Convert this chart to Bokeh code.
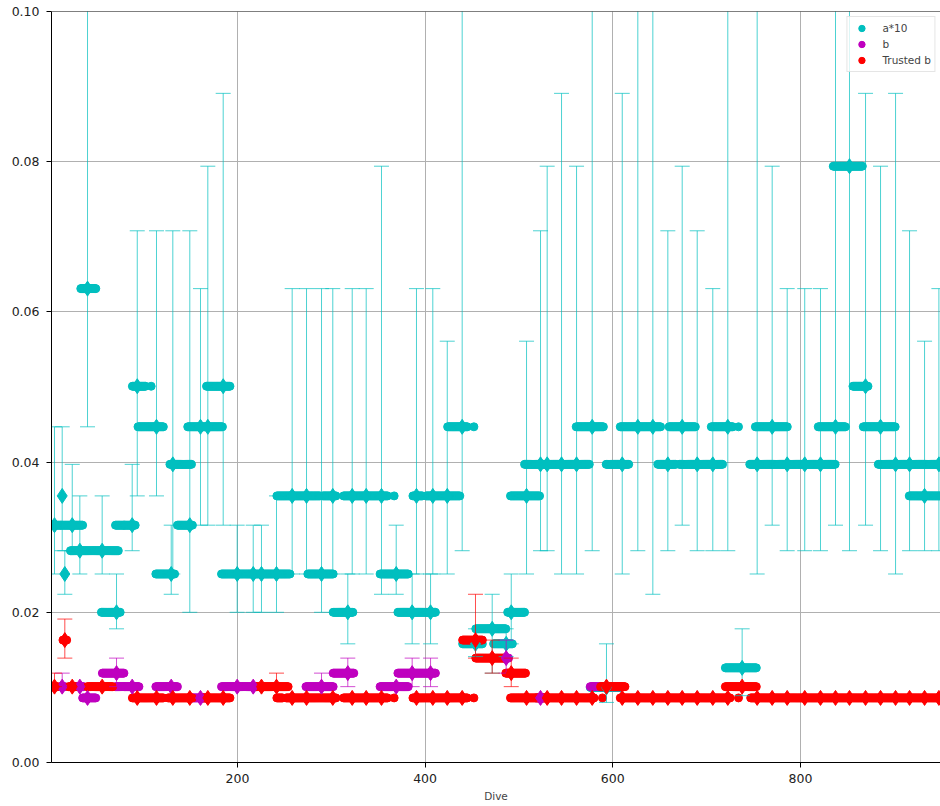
import numpy as np
from bokeh.plotting import figure
from bokeh.models import (ColumnDataSource, FixedTicker, PrintfTickFormatter, Span,
                          Legend, LegendItem, Range1d)
from bokeh.embed import file_html
from bokeh.resources import INLINE

CYAN = "#00bfbf"
MAGENTA = "#bf00bf"
RED = "#ff0000"
FONT = "DejaVu Sans"

# ---- window estimates (diamonds with error bars) ----
WIN_DIVE = [5.0, 13.2, 16.0, 23.9, 32.0, 40.2, 55.8, 71.1, 87.8, 93.2,
            113.7, 129.4, 131.1, 149.2, 160.6, 168.4, 184.8, 199.7, 216.8, 225.6,
            241.6, 258.3, 273.6, 289.6, 301.6, 317.6, 322.3, 337.2, 353.5, 369.2,
            386.2, 390.8, 405.8, 408.2, 423.6, 439.5, 453.7, 471.5, 486.4, 491.8,
            508.1, 523.0, 530.1, 545.4, 561.4, 578.1, 593.3, 610.1, 626.7, 642.7,
            658.7, 674.0, 690.0, 706.6, 722.6, 737.9, 753.9, 769.9, 785.9, 804.6,
            821.4, 837.4, 852.3, 869.4, 885.4, 901.4, 916.3, 932.3, 947.6]
A10 = [0.0316, 0.0355, 0.0251, 0.0316, 0.0282, 0.0631, 0.0282, 0.0200, 0.0316, 0.0501,
       0.0447, 0.0251, 0.0397, 0.0316, 0.0447, 0.0447, 0.0501, 0.0251, 0.0251, 0.0251,
       0.0251, 0.0355, 0.0355, 0.0251, 0.0355, 0.0200, 0.0355, 0.0355, 0.0355, 0.0251,
       0.0200, 0.0355, 0.0200, 0.0355, 0.0355, 0.0447, 0.0158, 0.0178, 0.0158, 0.0200,
       0.0355, 0.0397, 0.0397, 0.0397, 0.0397, 0.0447, 0.0100, 0.0397, 0.0447, 0.0447,
       0.0397, 0.0447, 0.0397, 0.0397, 0.0447, 0.0126, 0.0397, 0.0447, 0.0397, 0.0397,
       0.0397, 0.0447, 0.0794, 0.0501, 0.0447, 0.0397, 0.0397, 0.0355, 0.0397]
A10_LO = [0.0251, 0.0282, 0.0224, 0.0282, 0.0251, 0.0447, 0.0251, 0.0178, 0.0282, 0.0355,
          0.0355, 0.0224, 0.0251, 0.0200, 0.0316, 0.0316, 0.0316, 0.0200, 0.0200, 0.0200,
          0.0200, 0.0251, 0.0251, 0.0200, 0.0251, 0.0158, 0.0251, 0.0251, 0.0224, 0.0224,
          0.0158, 0.0251, 0.0158, 0.0251, 0.0251, 0.0282, 0.0141, 0.0119, 0.0141, 0.0158,
          0.0251, 0.0282, 0.0282, 0.0251, 0.0251, 0.0282, 0.0080, 0.0251, 0.0282, 0.0224,
          0.0282, 0.0316, 0.0282, 0.0282, 0.0282, 0.0089, 0.0251, 0.0316, 0.0282, 0.0282,
          0.0282, 0.0316, 0.0282, 0.0316, 0.0282, 0.0251, 0.0282, 0.0282, 0.0282]
A10_HI = [0.0447, 0.0447, 0.0282, 0.0397, 0.0355, 0.1122, 0.0355, 0.0251, 0.0397, 0.0708,
          0.0708, 0.0316, 0.0708, 0.0708, 0.0631, 0.0794, 0.0891, 0.0316, 0.0316, 0.0316,
          0.0355, 0.0631, 0.0631, 0.0631, 0.0631, 0.0251, 0.0631, 0.0631, 0.0794, 0.0316,
          0.0251, 0.0631, 0.0251, 0.0631, 0.0561, 0.1122, 0.0178, 0.0224, 0.0178, 0.0251,
          0.0561, 0.0708, 0.0794, 0.0891, 0.0794, 0.1122, 0.0158, 0.0891, 0.1122, 0.1122,
          0.0708, 0.0794, 0.0708, 0.0631, 0.1122, 0.0178, 0.1122, 0.0794, 0.0631, 0.0631,
          0.0631, 0.1122, 0.1122, 0.0891, 0.0794, 0.0891, 0.0708, 0.0561, 0.0631]
B = [0.0101, 0.0101, 0.0163, 0.0101, 0.0101, 0.0086, 0.0101, 0.0119, 0.0101, 0.0086,
     0.0086, 0.0101, 0.0086, 0.0086, 0.0086, 0.0086, 0.0086, 0.0101, 0.0101, 0.0101,
     0.0101, 0.0086, 0.0086, 0.0101, 0.0086, 0.0119, 0.0086, 0.0086, 0.0086, 0.0101,
     0.0119, 0.0086, 0.0119, 0.0086, 0.0086, 0.0086, 0.0163, 0.0139, 0.0139, 0.0119,
     0.0086, 0.0086, 0.0086, 0.0086, 0.0086, 0.0086, 0.0101, 0.0086, 0.0086, 0.0086,
     0.0086, 0.0086, 0.0086, 0.0086, 0.0086, 0.0101, 0.0086, 0.0086, 0.0086, 0.0086,
     0.0086, 0.0086, 0.0086, 0.0086, 0.0086, 0.0086, 0.0086, 0.0086, 0.0086]
B_LO = [0.0101, 0.0101, 0.0139, 0.0101, 0.0101, 0.0086, 0.0101, 0.0101, 0.0101, 0.0086,
        0.0086, 0.0101, 0.0086, 0.0086, 0.0086, 0.0086, 0.0086, 0.0101, 0.0101, 0.0101,
        0.0101, 0.0086, 0.0086, 0.0101, 0.0086, 0.0101, 0.0086, 0.0086, 0.0086, 0.0101,
        0.0101, 0.0086, 0.0101, 0.0086, 0.0086, 0.0086, 0.0139, 0.0119, 0.0119, 0.0101,
        0.0086, 0.0086, 0.0086, 0.0086, 0.0086, 0.0086, 0.0101, 0.0086, 0.0086, 0.0086,
        0.0086, 0.0086, 0.0086, 0.0086, 0.0086, 0.0101, 0.0086, 0.0086, 0.0086, 0.0086,
        0.0086, 0.0086, 0.0086, 0.0086, 0.0086, 0.0086, 0.0086, 0.0086, 0.0086]
B_HI = [0.0119, 0.0119, 0.0191, 0.0101, 0.0101, 0.0086, 0.0101, 0.0139, 0.0101, 0.0086,
        0.0086, 0.0101, 0.0086, 0.0086, 0.0086, 0.0086, 0.0086, 0.0101, 0.0101, 0.0101,
        0.0119, 0.0086, 0.0086, 0.0119, 0.0086, 0.0139, 0.0086, 0.0086, 0.0086, 0.0101,
        0.0139, 0.0086, 0.0139, 0.0086, 0.0086, 0.0086, 0.0224, 0.0163, 0.0163, 0.0139,
        0.0086, 0.0086, 0.0086, 0.0086, 0.0086, 0.0086, 0.0101, 0.0086, 0.0086, 0.0086,
        0.0086, 0.0086, 0.0086, 0.0086, 0.0086, 0.0101, 0.0086, 0.0086, 0.0086, 0.0086,
        0.0086, 0.0086, 0.0086, 0.0086, 0.0086, 0.0086, 0.0086, 0.0086, 0.0086]
TRUSTED = [1, 0, 1, 1, 0, 0, 1, 0, 0, 1,
           1, 0, 1, 1, 0, 1, 1, 0, 0, 1,
           1, 1, 1, 0, 1, 0, 1, 1, 1, 0,
           0, 1, 0, 1, 1, 1, 1, 1, 0, 1,
           1, 0, 1, 1, 1, 1, 1, 1, 1, 1,
           1, 1, 1, 1, 1, 1, 1, 1, 1, 1,
           1, 1, 1, 1, 1, 1, 1, 1, 1]

# ---- per-dive dot runs (start dive, end dive, value) ----
A_RUN_START = [3, 33, 22, 55, 70, 88, 108, 94, 113, 128, 136, 147, 167, 183, 242, 275, 291,
               313, 367, 302, 352, 371, 387, 401, 424, 452, 440, 454, 473, 488, 491, 506, 561,
               576, 593, 608, 648, 660, 671, 705, 734, 720, 746, 752, 819, 835, 856, 867, 883, 916]
A_RUN_END = [35, 49, 73, 75, 91, 102, 108, 121, 133, 151, 152, 184, 192, 256, 288, 302, 305,
             360, 367, 323, 382, 411, 397, 437, 445, 452, 461, 486, 493, 506, 522, 575, 590,
             608, 617, 651, 667, 688, 717, 728, 734, 753, 837, 786, 848, 866, 872, 901, 949, 949]
A_RUN_VAL = [0.0316, 0.0631, 0.0282, 0.0200, 0.0316, 0.0501, 0.0501, 0.0447, 0.0251, 0.0397,
             0.0316, 0.0447, 0.0501, 0.0251, 0.0355, 0.0251, 0.0355, 0.0355, 0.0355, 0.0200,
             0.0251, 0.0200, 0.0355, 0.0355, 0.0447, 0.0447, 0.0158, 0.0178, 0.0158, 0.0200,
             0.0355, 0.0397, 0.0447, 0.0100, 0.0397, 0.0447, 0.0397, 0.0447, 0.0397, 0.0447,
             0.0447, 0.0126, 0.0397, 0.0447, 0.0447, 0.0794, 0.0501, 0.0447, 0.0397, 0.0355]

B_RUN_START = [11, 27, 35, 56, 70, 113, 151, 183, 273, 302, 352, 371, 484, 518, 576]
B_RUN_END = [16, 36, 49, 79, 95, 136, 167, 220, 302, 324, 382, 411, 489, 528, 608]
B_RUN_VAL = [0.0101, 0.0101, 0.0086, 0.0119, 0.0101, 0.0101, 0.0086, 0.0101, 0.0101, 0.0119,
             0.0101, 0.0119, 0.0139, 0.0086, 0.0101]

T_RUN_START = [3, 14, 20, 40, 88, 126, 163, 220, 242, 252, 313, 367, 387, 452, 440, 454, 486,
               491, 589, 587, 608, 720, 734, 747]
T_RUN_END = [8, 18, 27, 67, 121, 152, 192, 254, 248, 305, 360, 367, 445, 452, 461, 486, 507,
             580, 589, 613, 725, 753, 734, 949]
T_RUN_VAL = [0.0101, 0.0163, 0.0101, 0.0101, 0.0086, 0.0086, 0.0086, 0.0101, 0.0086, 0.0086,
             0.0086, 0.0086, 0.0086, 0.0086, 0.0163, 0.0139, 0.0119, 0.0086, 0.0086, 0.0101,
             0.0086, 0.0101, 0.0086, 0.0086]

X_TICKS = [200, 400, 600, 800]
Y_TICKS = [0.0, 0.02, 0.04, 0.06, 0.08, 0.10]


def expand(starts, ends, vals):
    xs, ys = [], []
    for s, e, v in zip(starts, ends, vals):
        for d in range(int(round(s)), int(round(e)) + 1):
            xs.append(d)
            ys.append(v)
    return xs, ys


p = figure(width=940, height=806, output_backend="svg", toolbar_location=None,
           x_range=Range1d(1.8, 949.3), y_range=Range1d(0.0, 0.1),
           min_border_left=51, min_border_right=0, min_border_top=11, min_border_bottom=44)
p.outline_line_color = None
p.background_fill_color = "white"

for ax in (p.xaxis[0], p.yaxis[0]):
    ax.axis_line_color = "black"
    ax.major_tick_line_color = "black"
    ax.major_tick_out = 5
    ax.major_tick_in = 0
    ax.minor_tick_line_color = None
    ax.major_label_text_font = FONT
    ax.major_label_text_font_size = "12.5px"
    ax.major_label_text_color = "#222222"

p.xaxis.ticker = FixedTicker(ticks=X_TICKS)
p.yaxis.ticker = FixedTicker(ticks=Y_TICKS)
p.yaxis.formatter = PrintfTickFormatter(format="%.2f")
p.xaxis.major_label_standoff = 6
p.yaxis.major_label_standoff = 7
p.xaxis.axis_label = "Dive"
p.xaxis.axis_label_text_font = FONT
p.xaxis.axis_label_text_font_size = "10.5px"
p.xaxis.axis_label_text_font_style = "normal"
p.xaxis.axis_label_standoff = 4
p.xgrid.ticker = FixedTicker(ticks=X_TICKS)
p.ygrid.ticker = FixedTicker(ticks=Y_TICKS)
p.xgrid.grid_line_color = "#b0b0b0"
p.ygrid.grid_line_color = "#b0b0b0"

p.add_layout(Span(location=0.1, dimension="width", line_color="black", line_width=1))

# dots
ax_, ay_ = expand(A_RUN_START, A_RUN_END, A_RUN_VAL)
bx_, by_ = expand(B_RUN_START, B_RUN_END, B_RUN_VAL)
tx_, ty_ = expand(T_RUN_START, T_RUN_END, T_RUN_VAL)
DOT = 8
r_a = p.scatter(ax_, ay_, marker="circle", size=DOT, fill_color=CYAN, line_color=CYAN)
r_b = p.scatter(bx_, by_, marker="circle", size=DOT, fill_color=MAGENTA, line_color=MAGENTA)
r_t = p.scatter(tx_, ty_, marker="circle", size=DOT, fill_color=RED, line_color=RED)


def errbars(xs, vals, lo, hi, color):
    xs = np.asarray(xs, float)
    lo = np.asarray(lo, float)
    hi = np.asarray(hi, float)
    m = hi > lo
    if m.any():
        src = ColumnDataSource(dict(x=xs[m], lo=lo[m], hi=hi[m]))
        p.segment(x0="x", y0="lo", x1="x", y1="hi", source=src, line_color=color,
                  line_width=1, line_alpha=0.7)
        p.scatter(x="x", y="lo", marker="dash", size=15, source=src, line_color=color,
                  line_width=1, line_alpha=0.7)
        p.scatter(x="x", y="hi", marker="dash", size=15, source=src, line_color=color,
                  line_width=1, line_alpha=0.7)
    p.scatter(xs, vals, marker="diamond", size=15, fill_color=color, line_color=color)


tr = np.asarray(TRUSTED) == 1
wx = np.asarray(WIN_DIVE)
errbars(WIN_DIVE, A10, A10_LO, A10_HI, CYAN)
errbars(wx[~tr], np.asarray(B)[~tr], np.asarray(B_LO)[~tr], np.asarray(B_HI)[~tr], MAGENTA)
errbars(wx[tr], np.asarray(B)[tr], np.asarray(B_LO)[tr], np.asarray(B_HI)[tr], RED)

legend = Legend(items=[LegendItem(label="a*10", renderers=[r_a]),
                       LegendItem(label="b", renderers=[r_b]),
                       LegendItem(label="Trusted b", renderers=[r_t])],
                location="top_right")
legend.label_text_font = FONT
legend.label_text_font_size = "10.5px"
legend.label_height = 16
legend.glyph_height = 16
legend.glyph_width = 22
legend.spacing = 0
legend.padding = 3
legend.margin = 5
legend.label_standoff = 10
legend.border_line_color = "#cccccc"
legend.background_fill_alpha = 0.8
p.add_layout(legend)

open("out.html", "w").write(file_html(p, INLINE))
